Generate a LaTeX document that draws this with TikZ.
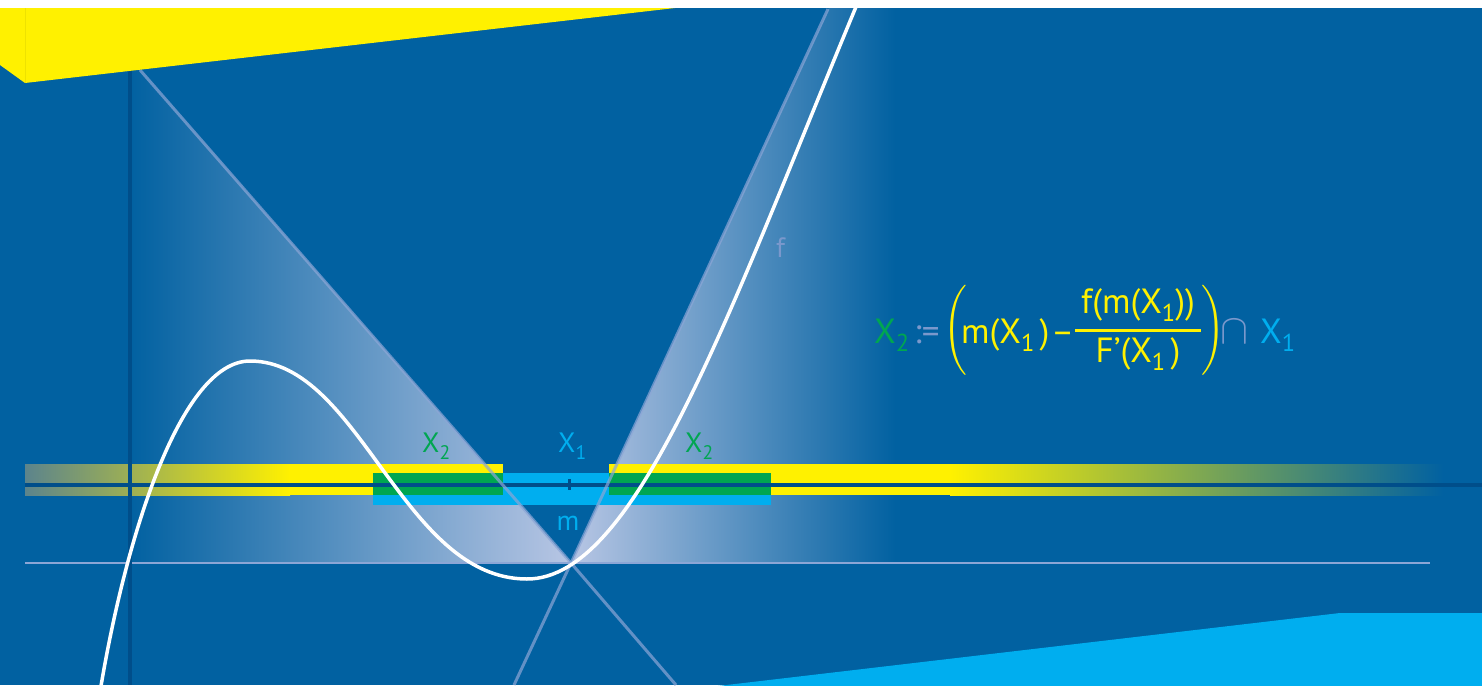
\documentclass[tikz,border=0pt]{standalone}
\usepackage{fontspec}
\setmainfont{PT Sans}
\definecolor{bgblue}{RGB}{1,97,161}
\definecolor{darkline}{RGB}{0,78,138}
\definecolor{lightline}{RGB}{140,166,214}
\definecolor{fyellow}{RGB}{255,241,0}
\definecolor{fyellowdark}{RGB}{238,226,0}
\definecolor{fgreen}{RGB}{0,166,81}
\definecolor{fcyan}{RGB}{0,174,239}
\definecolor{shadelight}{RGB}{184,198,228}
\definecolor{shademid}{RGB}{62,124,184}
\definecolor{shademidr}{RGB}{88,138,194}
\definecolor{labelgray}{RGB}{122,152,204}
\definecolor{fadeleft}{RGB}{92,132,140}
\definecolor{fademid}{RGB}{140,160,120}
\newcommand{\subx}[1]{\raisebox{-0.25em}{\scalebox{0.7}{#1}}}
\newcommand{\bigparen}[1]{\makebox[0pt]{\fontsize{10}{12}\selectfont\scalebox{3}{$#1$}}}
\begin{document}
\begin{tikzpicture}[x=1pt,y=-1pt,
  lbl/.style={inner sep=0pt, font=\fontsize{28}{28}\selectfont},
  fml/.style={inner sep=0pt, font=\fontsize{35}{35}\selectfont},
  coneline/.style={draw=lightline, line width=3pt, draw opacity=0.7},
  barline/.style={draw=darkline, line width=4pt}]
\useasboundingbox (0,0) rectangle (1482,685);
\clip (0,0) rectangle (1482,685);
% background
\fill[bgblue] (0,0) rectangle (1482,685);
% shaded cones
\shade[left color=bgblue, middle color=shademid, right color=shadelight]
  (130,563) -- (130,58) -- (571,563) -- cycle;
\shade[left color=shadelight, middle color=shademidr, right color=bgblue]
  (571,563) -- (831,3) -- (895,3) -- (895,563) -- cycle;
% horizontal axis line
\coordinate (axL) at (25,563);
\coordinate (axR) at (1430,563);
\draw[lightline, line width=2.5pt] (axL) -- (axR);
% bars
\fill[left color=fadeleft, right color=fyellow] (25,464) rectangle (290,495);
\fill[fyellow] (289,464) rectangle (503,495);
\fill[fyellow] (609,464) rectangle (951,495);
\fill[left color=fyellow, middle color=fademid, right color=bgblue] (950,464) rectangle (1443,495);
\fill[fcyan] (373,473) rectangle (771,505);
\fill[fgreen] (373,473) rectangle (503,495);
\fill[fgreen] (609,473) rectangle (771,495);
\coordinate (blL) at (25,484.5);
\coordinate (blR) at (1482,484.5);
\draw[barline] (blL) -- (blR);
\coordinate (tkT) at (569,479);
\coordinate (tkB) at (569,490);
\draw[darkline, line width=3pt] (tkT) -- (tkB);
% vertical dark line
\coordinate (vT) at (130,60);
\coordinate (vB) at (130,685);
\draw[darkline, line width=3.5pt] (vT) -- (vB);
% cone lines
\coordinate (apex) at (571,563);
\coordinate (cl1) at (140,70);
\coordinate (cl2) at (676,685);
\coordinate (cr1) at (828,9);
\coordinate (cr2) at (514,685);
\draw[coneline] (cl1) -- (apex) -- (cl2);
\draw[coneline] (cr1) -- (apex) -- (cr2);
% function curve
\coordinate (c0) at (100,692);
\coordinate (cmax) at (250,361);
\coordinate (cmin) at (527,579);
\coordinate (ctop) at (858,2);
\draw[white, line width=3.5pt]
  (c0) .. controls (125,540) and (180,361) .. (cmax)
       .. controls (360,361) and (402,579) .. (cmin)
       .. controls (637,579) and (728,314) .. (ctop) -- (861,-6);
% yellow plane top left
\fill[fyellow] (0,0) -- (690,0) -- (675,8) -- (25,83) -- (0,65) -- cycle;
\coordinate (yT) at (25,8);
\coordinate (yB) at (25,83);
\draw[fyellowdark, line width=1pt] (yT) -- (yB);
% cyan plane bottom right
\fill[fcyan] (718,686) -- (1340,613) -- (1483,613) -- (1483,686) -- cycle;
% white strip
\fill[white] (0,0) rectangle (1482,8);
% labels
\node[lbl, anchor=base west, text=fgreen] (lX2a) at (422,452) {X\subx{2}};
\node[lbl, anchor=base west, text=fcyan] (lX1) at (558,452) {X\subx{1}};
\node[lbl, anchor=base west, text=fgreen] (lX2b) at (685,452) {X\subx{2}};
\node[lbl, anchor=base, text=fcyan] (lm) at (568,530) {m};
\node[lbl, anchor=base west, text=labelgray] (lf) at (776,257) {f};
% formula
\node[fml, anchor=base west, text=fgreen] (fX2) at (874,343) {X\subx{2}};
\node[fml, anchor=base west, text=labelgray] (fas) at (914,343) {:=};
\node[inner sep=0pt, anchor=base, text=fyellow] (flp) at (955,337.5) {\bigparen{\Bigg(}};
\node[fml, anchor=base west, text=fyellow] (fmx) at (961,343) {m(X\subx{1}\hspace{0.15em})};
\node[fml, anchor=base west, text=fyellow] (fmi) at (1051,343) {–};
\node[fml, anchor=base, text=fyellow] (fnum) at (1138,313) {f(m(X\subx{1}))};
\coordinate (fbL) at (1075,330);
\coordinate (fbR) at (1201,330);
\draw[fyellow, line width=3pt] (fbL) -- (fbR);
\node[fml, anchor=base, text=fyellow] (fden) at (1138,362) {F’(X\subx{1}\hspace{0.15em})};
\node[inner sep=0pt, anchor=base, text=fyellow] (frp) at (1213,337.5) {\bigparen{\Bigg)}};
\node[inner sep=0pt, anchor=base west, text=labelgray] (fcap) at (1220,343)
  {\fontsize{10}{12}\selectfont\scalebox{4.2}{$\cap$}};
\node[fml, anchor=base west, text=fcyan] (fX1) at (1260,343) {X\subx{1}};
\end{tikzpicture}
\end{document}
